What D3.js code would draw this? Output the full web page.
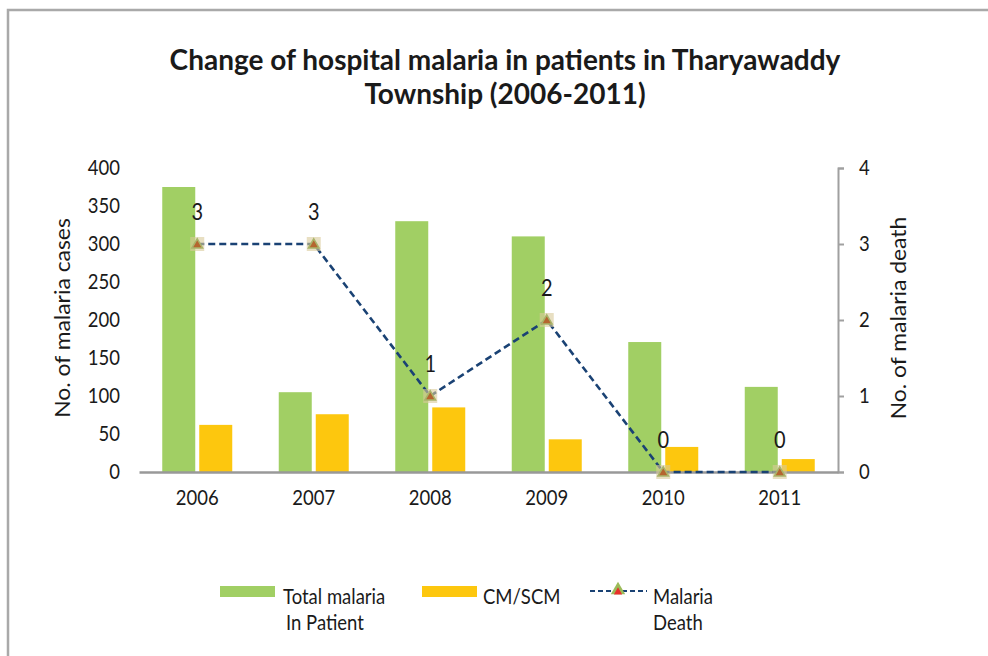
<!DOCTYPE html>
<html>
<head>
<meta charset="utf-8">
<script src="https://cdn.jsdelivr.net/npm/d3@7"></script>
<style>
  body { margin: 0; background: #fff; }
  text { font-family: Lato, "Open Sans", sans-serif; fill: #1a1a1a; }
</style>
</head>
<body>
<svg id="chart" width="988" height="656"></svg>
<script>
// chart data
var years = ["2006", "2007", "2008", "2009", "2010", "2011"];
var totalInPatient = [375, 105, 330, 310, 171, 112];
var cmScm = [62, 76, 85, 43, 33, 17];
var malariaDeath = [3, 3, 1, 2, 0, 0];
var leftTicks = [0, 50, 100, 150, 200, 250, 300, 350, 400];
var rightTicks = [0, 1, 2, 3, 4];

var svg = d3.select("#chart");

var margin = { top: 168, right: 150, bottom: 184, left: 139 },
    width = 988 - margin.left - margin.right,
    height = 656 - margin.top - margin.bottom;

var fs = "18.5px";

// the source picture is a little taller than wide, so text gets stretched vertically
function stretchY(sel, k) {
    sel.each(function () {
        var b = this.getBBox(), c = b.y + b.height / 2;
        var t = d3.select(this).attr("transform") || "";
        d3.select(this).attr("transform", t + " translate(0," + c + ") scale(1," + k + ") translate(0," + (-c) + ")");
    });
}

// outer frame (only top and left edge visible)
svg.append("path")
    .attr("d", "M8,656V10H988")
    .attr("fill", "none")
    .attr("stroke", "#a9a9a9")
    .attr("stroke-width", 2.5);

// title
var title = svg.append("text")
    .attr("text-anchor", "middle")
    .style("font-weight", "bold")
    .style("font-size", "28px");
title.append("tspan").attr("x", 505).attr("y", 70).text("Change of hospital malaria in patients in Tharyawaddy");
title.append("tspan").attr("x", 505).attr("y", 104).text("Township (2006-2011)");

var g = svg.append("g").attr("transform", "translate(" + margin.left + "," + margin.top + ")");

var x = d3.scaleBand().domain(years).range([0, width]);
var yL = d3.scaleLinear().domain([0, 400]).range([height, 0]);
var yR = d3.scaleLinear().domain([0, 4]).range([height, 0]);

var barW = 33, gap = 4;

// bars
g.selectAll(".total").data(years).enter().append("rect")
    .attr("x", function (d) { return x(d) + x.bandwidth() / 2 - barW - gap / 2; })
    .attr("y", function (d, i) { return yL(totalInPatient[i]); })
    .attr("width", barW)
    .attr("height", function (d, i) { return height - yL(totalInPatient[i]); })
    .attr("fill", "#a1cf64");

g.selectAll(".cm").data(years).enter().append("rect")
    .attr("x", function (d) { return x(d) + x.bandwidth() / 2 + gap / 2; })
    .attr("y", function (d, i) { return yL(cmScm[i]); })
    .attr("width", barW)
    .attr("height", function (d, i) { return height - yL(cmScm[i]); })
    .attr("fill", "#fdc70e");

function styleText(sel) {
    sel.attr("font-family", null).attr("font-size", null);
    sel.selectAll("text")
        .attr("fill", "#1a1a1a")
        .style("font-size", fs)
        .style("font-family", "Lato, sans-serif");
    stretchY(sel.selectAll("text"), 1.1);
}

// left axis (labels only)
var leftAxis = g.append("g")
    .call(d3.axisLeft(yL).tickValues(leftTicks).tickSize(0).tickPadding(19));
leftAxis.select(".domain").remove();
styleText(leftAxis);

// right axis
var rightAxis = g.append("g")
    .attr("transform", "translate(" + width + ",0)")
    .call(d3.axisRight(yR).tickValues(rightTicks).tickFormat(d3.format("d"))
        .tickSize(6).tickSizeOuter(6).tickPadding(15));
rightAxis.select(".domain").attr("stroke", "#a0a0a0").attr("stroke-width", 2);
rightAxis.selectAll("line").attr("stroke", "#a0a0a0").attr("stroke-width", 2);
styleText(rightAxis);

// x axis
var xAxis = g.append("g")
    .attr("transform", "translate(0," + height + ")")
    .call(d3.axisBottom(x).tickSize(0).tickPadding(19));
xAxis.select(".domain").attr("stroke", "#999").attr("stroke-width", 2.5);
styleText(xAxis);

// axis titles
svg.append("text")
    .attr("transform", "translate(70,318) scale(1,1.09) rotate(-90)")
    .attr("text-anchor", "middle")
    .style("font-size", "21px")
    .text("No. of malaria cases");
svg.append("text")
    .attr("transform", "translate(906,318) scale(1,1.09) rotate(-90)")
    .attr("text-anchor", "middle")
    .style("font-size", "21px")
    .text("No. of malaria death");

// death line
var line = d3.line()
    .x(function (d, i) { return x(years[i]) + x.bandwidth() / 2; })
    .y(function (d) { return yR(d); });

g.append("path")
    .datum(malariaDeath)
    .attr("d", line)
    .attr("fill", "none")
    .attr("stroke", "#1a4274")
    .attr("stroke-width", 2.6)
    .attr("stroke-dasharray", "7,4");

function marker(sel, cx, cy) {
    sel.append("rect")
        .attr("x", cx - 7).attr("y", cy - 7)
        .attr("width", 14).attr("height", 14)
        .attr("fill", "#d8c99a").attr("opacity", 0.6);
    sel.append("path")
        .attr("d", d3.symbol(d3.symbolTriangle, 50)())
        .attr("transform", "translate(" + cx + "," + (cy + 1) + ")")
        .attr("fill", "#b5652f")
        .attr("stroke", "#a9b46a")
        .attr("stroke-width", 1.5);
}

var labels = [];
malariaDeath.forEach(function (d, i) {
    var cx = x(years[i]) + x.bandwidth() / 2, cy = yR(d);
    marker(g, cx, cy);
    labels.push(g.append("text")
        .attr("x", cx)
        .attr("y", cy - 25)
        .attr("text-anchor", "middle")
        .style("font-size", "20px")
        .text(d).node());
});
stretchY(d3.selectAll(labels), 1.12);

// legend
var leg = svg.append("g").style("font-size", fs);
leg.append("rect").attr("x", 220).attr("y", 586).attr("width", 55).attr("height", 11).attr("fill", "#a1cf64");
leg.append("text").attr("x", 283).attr("y", 603).text("Total malaria");
leg.append("text").attr("x", 286).attr("y", 629).text("In Patient");

leg.append("rect").attr("x", 422).attr("y", 586).attr("width", 55).attr("height", 11).attr("fill", "#fdc70e");
leg.append("text").attr("x", 483).attr("y", 603).text("CM/SCM");

leg.append("line").attr("x1", 590).attr("x2", 647).attr("y1", 591).attr("y2", 591)
    .attr("stroke", "#1a4274").attr("stroke-width", 2).attr("stroke-dasharray", "5,3");
leg.append("path")
    .attr("d", d3.symbol(d3.symbolTriangle, 90)())
    .attr("transform", "translate(618,590)")
    .attr("fill", "#9bbb59");
leg.append("path")
    .attr("d", d3.symbol(d3.symbolTriangle, 30)())
    .attr("transform", "translate(618,592)")
    .attr("fill", "#e8312c");
leg.append("text").attr("x", 653).attr("y", 603).text("Malaria");
leg.append("text").attr("x", 653).attr("y", 629).text("Death");
stretchY(leg.selectAll("text"), 1.1);
</script>
</body>
</html>
